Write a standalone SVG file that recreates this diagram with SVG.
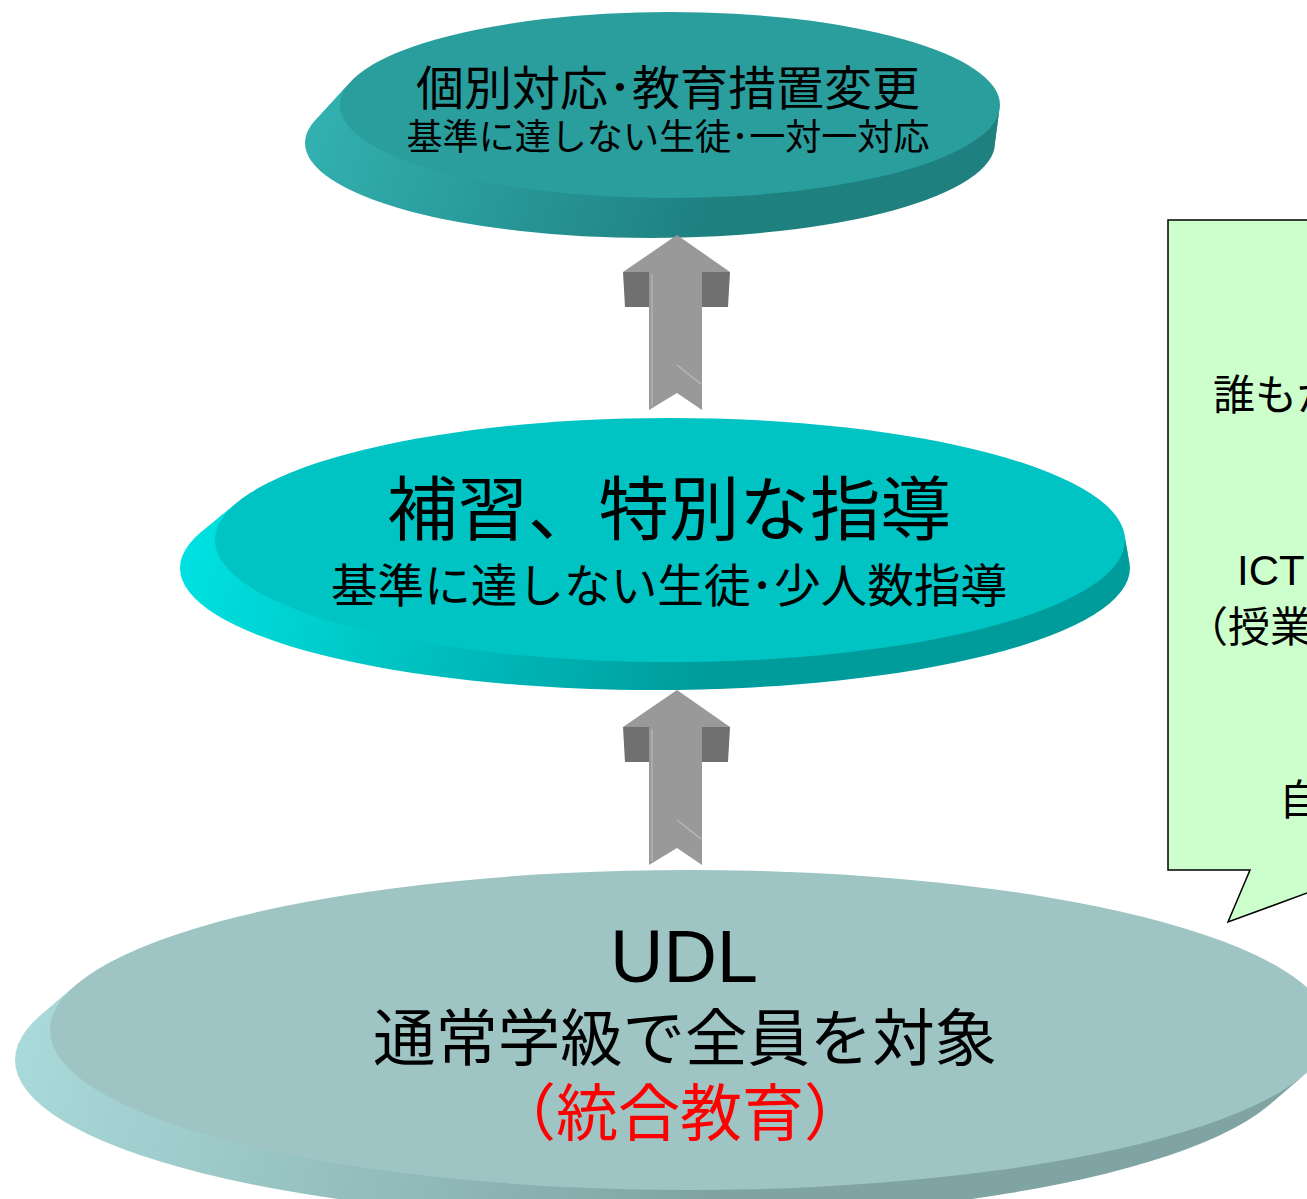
<svg xmlns="http://www.w3.org/2000/svg" xmlns:xlink="http://www.w3.org/1999/xlink" width="1307" height="1199" viewBox="0 0 1307 1199">
<style>
text{font-family:"Liberation Sans","Noto Sans CJK JP",sans-serif;fill:#000;text-anchor:middle}
.cl{text-anchor:start;font-size:42px}
.red{fill:#ff0000}
.sideTop{fill:url(#gTop)}
.sideMid{fill:url(#gMid)}
.sideBot{fill:url(#gBot)}
</style>
<defs>
<linearGradient id="gTop" gradientUnits="userSpaceOnUse" x1="305" y1="100" x2="700" y2="240">
<stop offset="0" stop-color="#33b2b2"/><stop offset="1" stop-color="#1f8080"/>
</linearGradient>
<linearGradient id="gMid" gradientUnits="userSpaceOnUse" x1="180" y1="540" x2="700" y2="692">
<stop offset="0" stop-color="#00e2e2"/><stop offset="1" stop-color="#009c9c"/>
</linearGradient>
<linearGradient id="gBot" gradientUnits="userSpaceOnUse" x1="15" y1="1030" x2="700" y2="1220">
<stop offset="0" stop-color="#aadada"/><stop offset="1" stop-color="#80a4a4"/>
</linearGradient>
<g id="arrowShape">
<polygon points="623,272 649,272 649,307 625,307" fill="#707070"/>
<polygon points="702,272 730,272 728,307 702,307" fill="#707070"/>
<path d="M677,235 L730,272 L702,272 L702,410 L677,393 L649,410 L649,272 L623,272 Z" fill="#999999"/>
<line x1="652" y1="274" x2="652" y2="406" stroke="#b3b3b3" stroke-width="1.5"/>
<line x1="677" y1="365" x2="701" y2="384" stroke="#b8b8b8" stroke-width="1.5"/>
</g>
</defs>
<rect width="1307" height="1199" fill="#ffffff"/>

<g id="node-bottom">
<ellipse class="sideBot" cx="655" cy="1060" rx="640" ry="160"/>
<ellipse class="sideBot" cx="662" cy="1054" rx="640" ry="160"/>
<ellipse class="sideBot" cx="669" cy="1048" rx="640" ry="160"/>
<ellipse class="sideBot" cx="676" cy="1042" rx="640" ry="160"/>
<ellipse class="sideBot" cx="683" cy="1036" rx="640" ry="160"/>
<ellipse cx="690" cy="1030" rx="640" ry="160" fill="#9ec4c4"/>
<text x="684" y="982" font-size="74">UDL</text>
<text x="685" y="1061" font-size="62" textLength="624" lengthAdjust="spacingAndGlyphs">通常学級で全員を対象</text>
<text class="red" x="680" y="1136" font-size="62">（統合教育）</text>
</g>

<g id="node-middle">
<ellipse class="sideMid" cx="655" cy="568" rx="475" ry="122"/>
<ellipse class="sideMid" cx="658" cy="562.4" rx="471" ry="122"/>
<ellipse class="sideMid" cx="661" cy="556.8" rx="467" ry="122"/>
<ellipse class="sideMid" cx="664" cy="551.2" rx="463" ry="122"/>
<ellipse class="sideMid" cx="667" cy="545.6" rx="459" ry="122"/>
<ellipse cx="670" cy="540" rx="455" ry="122" fill="#00c3c3"/>
<text x="669" y="535" font-size="70" textLength="564" lengthAdjust="spacingAndGlyphs">補習、特別な指導</text>
<text x="669" y="602" font-size="46" textLength="676" lengthAdjust="spacingAndGlyphs">基準に達しない生徒･少人数指導</text>
</g>

<g id="node-top">
<ellipse class="sideTop" cx="650" cy="143" rx="345" ry="95"/>
<ellipse class="sideTop" cx="654" cy="135.4" rx="342" ry="94.6"/>
<ellipse class="sideTop" cx="658" cy="127.8" rx="339" ry="94.2"/>
<ellipse class="sideTop" cx="662" cy="120.2" rx="336" ry="93.8"/>
<ellipse class="sideTop" cx="666" cy="112.6" rx="333" ry="93.4"/>
<ellipse cx="670" cy="105" rx="330" ry="93" fill="#2a9d9d"/>
<text x="668" y="105" font-size="47" textLength="504" lengthAdjust="spacingAndGlyphs">個別対応･教育措置変更</text>
<text x="668" y="150" font-size="36" textLength="523" lengthAdjust="spacingAndGlyphs">基準に達しない生徒･一対一対応</text>
</g>

<g id="connectors">
<use xlink:href="#arrowShape"/>
<use xlink:href="#arrowShape" transform="translate(0,455)"/>
</g>

<g id="callout">
<path d="M1168,220 H1400 V870 H1370 L1228,922 L1250,870 H1168 Z" fill="#ccffcc" stroke="#000" stroke-width="1.5"/>
<text class="cl" x="1213" y="410">誰もが</text>
<text class="cl" x="1237" y="585">ICT</text>
<text class="cl" x="1186" y="642">（授業</text>
<text class="cl" x="1279" y="815">自</text>
</g>
</svg>
